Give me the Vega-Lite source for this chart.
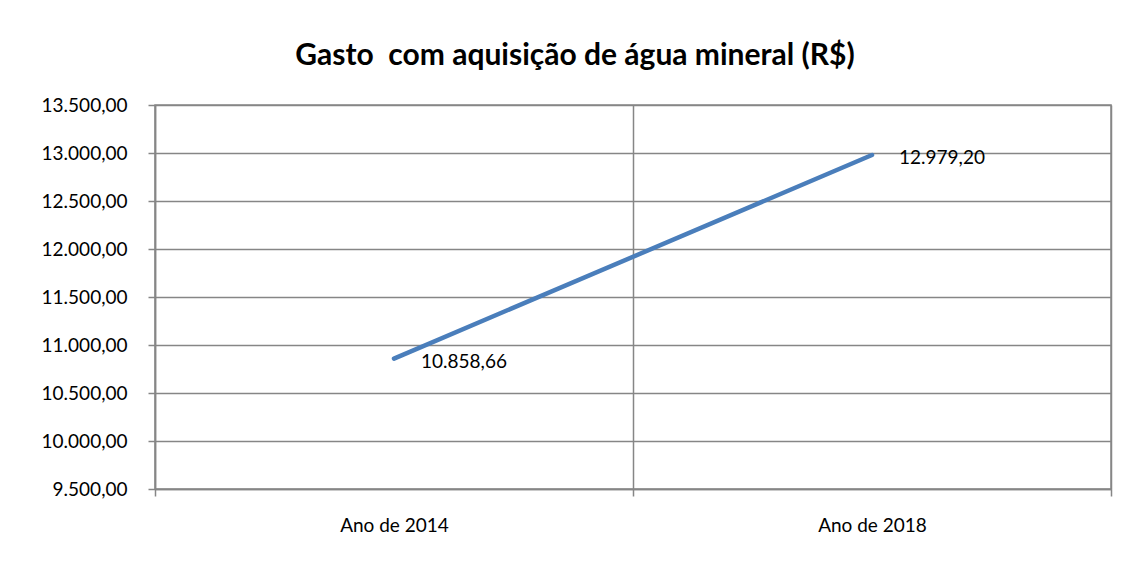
{
  "$schema": "https://vega.github.io/schema/vega-lite/v6.json",
  "autosize": {"type": "none"},
  "width": 956,
  "height": 384,
  "padding": {"left": 155, "top": 105, "right": 18, "bottom": 72},
  "background": "white",
  "config": {
    "locale": {"number": {"decimal": ",", "thousands": ".", "grouping": [3], "currency": ["R$", ""]}},
    "view": {"stroke": "#868686", "strokeWidth": 1.5},
    "font": "Lato"
  },
  "title": {
    "text": "Gasto\u00a0 com aquisição de água mineral (R$)",
    "font": "Lato",
    "fontSize": 30,
    "fontWeight": "bold",
    "color": "#000000",
    "anchor": "middle",
    "dx": -58,
    "offset": 25
  },
  "data": {
    "values": [
      {"ano": "Ano de 2014", "gasto": 10858.66},
      {"ano": "Ano de 2018", "gasto": 12979.20}
    ]
  },
  "encoding": {
    "x": {
      "field": "ano",
      "type": "nominal",
      "scale": {"type": "band", "paddingInner": 0, "paddingOuter": 0},
      "axis": {
        "title": null,
        "labelAngle": 0,
        "tickBand": "extent",
        "grid": true,
        "gridColor": "#868686",
        "gridWidth": 1.5,
        "domainColor": "#868686",
        "domainWidth": 1.5,
        "tickColor": "#868686",
        "tickWidth": 1.5,
        "tickSize": 7,
        "labelPadding": 20,
        "labelFont": "Lato",
        "labelFontSize": 19,
        "labelColor": "#000000"
      }
    },
    "y": {
      "field": "gasto",
      "type": "quantitative",
      "scale": {"domain": [9500, 13500], "zero": false, "nice": false},
      "axis": {
        "title": null,
        "values": [9500, 10000, 10500, 11000, 11500, 12000, 12500, 13000, 13500],
        "format": ",.2f",
        "grid": true,
        "gridColor": "#868686",
        "gridWidth": 1.5,
        "domainColor": "#868686",
        "domainWidth": 1.5,
        "tickColor": "#868686",
        "tickWidth": 1.5,
        "tickSize": 7,
        "labelPadding": 21,
        "labelFont": "Lato",
        "labelFontSize": 19,
        "labelColor": "#000000"
      }
    }
  },
  "layer": [
    {
      "mark": {"type": "line", "color": "#4a7ebb", "strokeWidth": 4.5, "strokeCap": "round"}
    },
    {
      "mark": {"type": "text", "align": "left", "baseline": "middle", "dx": 27, "dy": 3, "font": "Lato", "fontSize": 19, "color": "#000000"},
      "encoding": {
        "text": {"field": "gasto", "type": "quantitative", "format": ",.2f"}
      }
    }
  ]
}
